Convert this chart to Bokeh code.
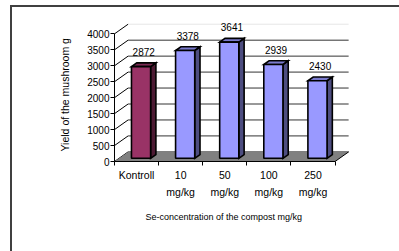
from bokeh.plotting import figure
from bokeh.models import Range1d, LinearAxis, FixedTicker, Title
from bokeh.core.properties import value
from bokeh.embed import file_html
from bokeh.resources import INLINE

# ---- data ----
categories = ["Kontroll", "10\nmg/kg", "50\nmg/kg", "100\nmg/kg", "250\nmg/kg"]
yields = [2872, 3378, 3641, 2939, 2430]
y_ticks = [0, 500, 1000, 1500, 2000, 2500, 3000, 3500, 4000]
front_colors = ["#993366", "#9999FF", "#9999FF", "#9999FF", "#9999FF"]
side_colors = ["#4d1a33", "#4d4d80", "#4d4d80", "#4d4d80", "#4d4d80"]
top_colors = ["#7a2952", "#7a7acc", "#7a7acc", "#7a7acc", "#7a7acc"]
x_title = "Se-concentration of the compost  mg/kg"
y_title = "Yield of the mushroom  g"

FONT = "Liberation Sans"
OX, OY = 12, 7          # page position of the canvas (after frame border)
W, H = 399 - OX, 251 - OY
LEFT = 114 - OX         # y axis at page x=114
ZERO = 159 - OY         # value 0 at page y=159
BOTTOM = H - ZERO
PX_X = 43.8             # px per category
YMAX = 4000
PX_Y = 126.0            # px per 4000
frame_w = W - LEFT
frame_h = ZERO

n = len(categories)
x_start = -0.5
x_end = x_start + frame_w / PX_X
y_end = frame_h * YMAX / PX_Y

p = figure(width=W, height=H, output_backend="svg", toolbar_location=None,
           x_range=Range1d(x_start, x_end), y_range=Range1d(0, y_end),
           x_axis_type=None, y_axis_type=None,
           min_border_left=LEFT, min_border_right=0, min_border_top=0,
           min_border_bottom=BOTTOM)
p.outline_line_color = None
p.grid.visible = False
p.background_fill_color = "white"
p.border_fill_color = "white"
p.styles = {"margin-left": "10px", "margin-top": "5px",
            "border-left": "2px solid #404040", "border-top": "2px solid #404040",
            "box-sizing": "content-box", "overflow": "hidden"}

# depth offsets (in data units)
DX = 13.5 / PX_X
DY = 9.5 * YMAX / PX_Y
f0, f1 = 0.33, 0.72
hw = 19 / PX_X / 2

# back wall gridlines and left wall diagonals
gl = [t for t in y_ticks if t < max(y_ticks)]
p.segment(x0=[x_start + DX] * len(gl), y0=[t + DY for t in gl],
          x1=[n - 0.5 + DX] * len(gl), y1=[t + DY for t in gl],
          line_color="#333333", line_width=1)
p.segment(x0=[x_start + DX], y0=[max(y_ticks) + DY], x1=[n - 0.5 + DX],
          y1=[max(y_ticks) + DY], line_color="#e6e6e6", line_width=1)
p.segment(x0=[x_start] * len(y_ticks), y0=y_ticks,
          x1=[x_start + DX] * len(y_ticks), y1=[t + DY for t in y_ticks],
          line_color="black", line_width=1)

# floor
p.patch(x=[x_start, n - 0.5, n - 0.5 + DX, x_start + DX], y=[0, 0, DY, DY],
        fill_color="#808080", line_color=None)
p.segment(x0=[n - 0.5], y0=[0], x1=[n - 0.5 + DX], y1=[DY],
          line_color="black", line_width=1)

# bars
cx = [i + f0 * DX for i in range(n)]
lefts = [c - hw for c in cx]
rights = [c + hw for c in cx]
bottoms = [f0 * DY] * n
tops = [v + f0 * DY for v in yields]
ddx = (f1 - f0) * DX
ddy = (f1 - f0) * DY
side_xs = [[r, r + ddx, r + ddx, r] for r in rights]
side_ys = [[b, b + ddy, t + ddy, t] for b, t in zip(bottoms, tops)]
top_xs = [[l, r, r + ddx, l + ddx] for l, r in zip(lefts, rights)]
top_ys = [[t, t, t + ddy, t + ddy] for t in tops]
p.patches(xs=side_xs, ys=side_ys, fill_color=side_colors, line_color="black",
          line_width=1.6, line_join="miter")
p.patches(xs=top_xs, ys=top_ys, fill_color=top_colors, line_color="black",
          line_width=1.6, line_join="miter")
p.quad(left=lefts, right=rights, bottom=bottoms, top=tops,
       fill_color=front_colors, line_color="black", line_width=1.6)

# value labels
p.text(x=[i + (f0 + f1) / 2 * DX for i in range(n)],
       y=[v + f1 * DY for v in yields], text=[str(v) for v in yields],
       text_font=value(FONT), text_font_size="10px", text_color="black",
       text_align="center", text_baseline="middle", y_offset=-11)

# axes
yaxis = LinearAxis(ticker=FixedTicker(ticks=y_ticks), bounds=(0, max(y_ticks)))
yaxis.major_label_text_font = FONT
yaxis.major_label_text_font_size = "10px"
yaxis.major_label_text_color = "black"
yaxis.major_label_standoff = 1
yaxis.major_tick_out = 4
yaxis.major_tick_in = 0
yaxis.minor_tick_out = 0
yaxis.axis_line_color = "black"
yaxis.major_tick_line_color = "black"
p.add_layout(yaxis, "left")

xaxis = LinearAxis(ticker=FixedTicker(ticks=list(range(n)),
                                      minor_ticks=[i - 0.5 for i in range(n + 1)]),
                   bounds=(x_start, n - 0.5))
xaxis.major_label_overrides = {i: c for i, c in enumerate(categories)}
xaxis.major_label_text_font = FONT
xaxis.major_label_text_font_size = "10.5px"
xaxis.major_label_text_color = "black"
xaxis.major_label_text_line_height = 1.45
xaxis.major_label_standoff = 3
xaxis.major_tick_out = 0
xaxis.major_tick_in = 0
xaxis.minor_tick_out = 4
xaxis.minor_tick_in = 0
xaxis.axis_line_color = "black"
xaxis.minor_tick_line_color = "black"
p.add_layout(xaxis, "below")

# axis titles, placed like the original (left-aligned with an offset)
xt = Title(text=x_title, align="left", offset=31,
           text_font=FONT, text_font_size="9px", text_font_style="normal",
           text_color="black", standoff=18)
p.add_layout(xt, "below")
yt = Title(text=y_title, align="left", offset=10,
           text_font=FONT, text_font_size="10.5px", text_font_style="normal",
           text_color="black", standoff=28)
p.add_layout(yt, "left")

open("out.html", "w").write(file_html(p, INLINE))
